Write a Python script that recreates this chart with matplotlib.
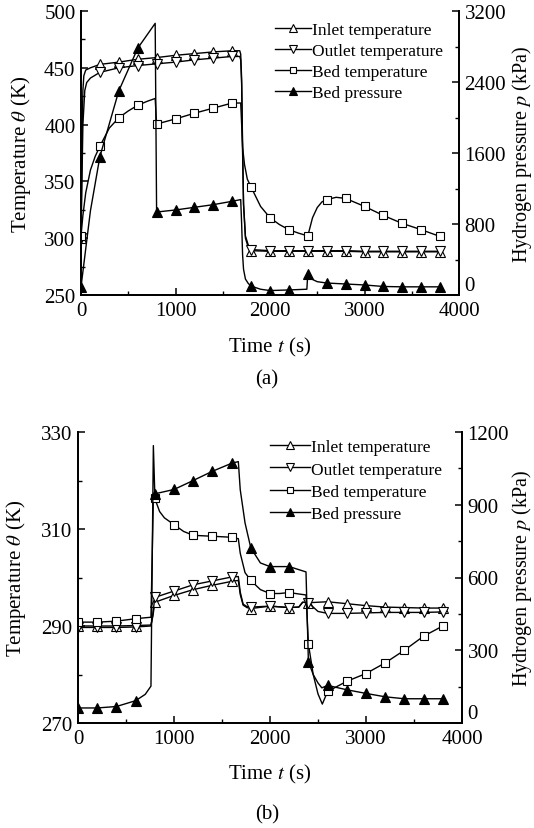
import matplotlib
matplotlib.use("Agg")
import matplotlib.pyplot as plt
from matplotlib.ticker import MultipleLocator
from matplotlib.lines import Line2D

plt.rcParams['font.family'] = ['Liberation Serif', 'DejaVu Serif']
plt.rcParams['mathtext.fontset'] = 'stix'

# ---------------- Panel (a) data ----------------
a_t_in = [0, 10, 20, 30, 50, 100, 200, 400, 600, 800, 1000, 1200, 1400, 1600, 1680, 1690,
          1700, 1710, 1720, 1740, 1770, 1800, 2000, 2200, 2400, 2600, 2800, 3000, 3200, 3400, 3600, 3800]
a_inlet = [300, 380, 430, 443, 448, 450, 453, 455, 457.5, 459, 461, 462.5, 464, 465, 465, 462,
           440, 380, 330, 300, 292, 289, 288.5, 288.5, 288.5, 288.5, 288.5, 288, 288, 288, 288, 288]

a_t_out = [0, 10, 20, 40, 60, 100, 200, 400, 600, 800, 1000, 1200, 1400, 1600, 1680, 1690,
           1700, 1710, 1720, 1740, 1770, 1800, 2000, 2200, 2400, 2600, 2800, 3000, 3200, 3400, 3600, 3800]
a_outlet = [300, 350, 400, 430, 437, 441, 446, 450, 452, 453.5, 455, 457, 458.5, 460, 460, 457,
            435, 375, 330, 302, 294, 290, 289, 289, 289, 289, 289, 288.5, 288.5, 288.5, 288.5, 288.5]

a_t_bed = [0, 20, 50, 100, 150, 200, 300, 400, 500, 600, 700, 785, 800, 1000, 1200, 1400, 1600,
           1690, 1700, 1710, 1730, 1760, 1800, 1900, 2000, 2100, 2200, 2300, 2400, 2450, 2500,
           2550, 2600, 2700, 2800, 3000, 3200, 3400, 3600, 3800]
a_bed = [302, 320, 340, 360, 372, 381, 397, 406, 412, 417, 420.5, 423, 400.5, 405, 410, 414.5, 419,
         419, 400, 380, 365, 352, 345, 328, 318, 312, 307.5, 304.5, 302, 318, 327,
         332, 334, 336, 335, 328, 320, 313, 307.5, 301.5]

a_t_p = [0, 100, 200, 400, 600, 785, 800, 1000, 1200, 1400, 1600, 1690, 1700, 1710, 1720, 1740,
         1770, 1800, 1900, 2000, 2200, 2390, 2400, 2450, 2500, 2600, 2800, 3000, 3200, 3400, 3600, 3800]
a_pres = [90, 950, 1560, 2300, 2780, 3061, 935, 958, 988, 1018, 1056, 1075, 800, 450, 290, 180,
          130, 100, 65, 50, 57, 65, 242, 175, 150, 135, 124, 113, 96, 92, 92, 92]

# ---------------- Panel (b) data ----------------
b_t_in = [0, 200, 400, 600, 760, 780, 800, 1000, 1200, 1400, 1600, 1670, 1690, 1720, 1760, 1800,
          2000, 2200, 2300, 2340, 2400, 2500, 2600, 2800, 3000, 3200, 3400, 3600, 3800]
b_inlet = [290.0, 290.0, 290.0, 290.1, 290.2, 292.0, 294.9, 296.3, 297.5, 298.4, 299.2, 299.4, 296.5,
           294.3, 293.8, 293.6, 294.1, 293.8, 293.9, 294.9, 294.8, 294.9, 295.0, 294.6, 294.2, 293.9,
           293.8, 293.7, 293.7]

b_t_out = b_t_in
b_outlet = [289.7, 289.7, 289.7, 289.8, 290.0, 292.5, 295.9, 297.2, 298.5, 299.3, 300.1, 300.2, 297.0,
            294.5, 294.0, 293.9, 294.1, 293.8, 293.9, 294.9, 294.8, 293.0, 292.6, 292.6, 292.7, 292.8,
            292.8, 292.8, 292.9]

b_t_bed = [0, 200, 400, 600, 700, 760, 785, 800, 850, 900, 1000, 1100, 1200, 1400, 1600, 1670, 1690,
           1740, 1800, 1900, 2000, 2100, 2200, 2300, 2375, 2400, 2450, 2500, 2545, 2600, 2800, 3000,
           3200, 3400, 3600, 3800]
b_bed = [290.8, 290.8, 291.0, 291.5, 291.7, 291.8, 316.5, 316.3, 313.6, 312.3, 310.9, 309.5, 308.7,
         308.5, 308.3, 308.0, 305.0, 301.0, 299.4, 297.5, 296.7, 296.7, 296.9, 296.6, 296.4, 286.3,
         280.0, 276.0, 273.9, 276.5, 278.6, 280.2, 282.4, 285.0, 287.9, 290.0]

b_t_p = [0, 200, 400, 600, 700, 760, 785, 800, 1000, 1200, 1400, 1600, 1670, 1690, 1740, 1800, 1900,
         2000, 2200, 2375, 2400, 2450, 2500, 2540, 2600, 2800, 3000, 3200, 3400, 3600, 3800]
b_pres = [62, 62, 68, 92, 118, 152, 1144, 945, 963, 1000, 1038, 1071, 1078, 962, 825, 722, 660,
          645, 645, 623, 253, 200, 165, 145, 155, 137, 122, 108, 100, 100, 100]

marker_times = list(range(0, 4000, 200))
labels = ['Inlet temperature', 'Outlet temperature', 'Bed temperature', 'Bed pressure']


def mark_idx(ts):
    last = {}
    for i, t in enumerate(ts):
        if t in marker_times:
            last[t] = i
    return sorted(last.values())


W, H = 534, 829
fig = plt.figure(figsize=(W / 100, H / 100), dpi=100)

FS_TICK = 15
FS_LAB = 15
FS_RLAB = 14.5
FS_LEG = 12.5
MS = 6.5
LW = 1.0


def style_axes(ax, axr, xmaj, xmin, ymaj, ymin, yoff, rmaj, rmin):
    for a in (ax, axr):
        a.spines['top'].set_visible(False)
        for s in ('left', 'right', 'bottom'):
            a.spines[s].set_linewidth(1.3)
    ax.xaxis.set_major_locator(MultipleLocator(xmaj))
    ax.xaxis.set_minor_locator(MultipleLocator(xmin))
    ax.yaxis.set_major_locator(MultipleLocator(ymaj, offset=yoff))
    ax.yaxis.set_minor_locator(MultipleLocator(ymin))
    axr.yaxis.set_major_locator(MultipleLocator(rmaj))
    axr.yaxis.set_minor_locator(MultipleLocator(rmin))
    for a in (ax, axr):
        a.tick_params(which='major', direction='in', length=5, width=1.1, labelsize=FS_TICK, pad=4)
        a.tick_params(which='minor', direction='in', length=3, width=1.0)


def draw_panel(rect, data, xlim, ylim, rlim, ticks, legend_anchor, lab_coords, xlab_y, hl, ls):
    ax = fig.add_axes(rect)
    axr = ax.twinx()
    (ti, vi), (to, vo), (tb, vb), (tp, vp) = data
    ax.plot(ti, vi, color='black', lw=LW, marker='^', ms=MS, mfc='white', mec='black', mew=0.8,
            markevery=mark_idx(ti), label=labels[0])
    ax.plot(to, vo, color='black', lw=LW, marker='v', ms=MS, mfc='white', mec='black', mew=0.8,
            markevery=mark_idx(to), label=labels[1])
    ax.plot(tb, vb, color='black', lw=LW, marker='s', ms=MS - 0.5, mfc='white', mec='black', mew=0.8,
            markevery=mark_idx(tb), label=labels[2])
    axr.plot(tp, vp, color='black', lw=LW, marker='^', ms=MS, mfc='black', mec='black', mew=0.8,
             markevery=mark_idx(tp), label=labels[3])
    ax.set_xlim(*xlim)
    ax.set_ylim(*ylim)
    axr.set_ylim(*rlim)
    style_axes(ax, axr, *ticks)
    ax.set_xlabel('Time $t$ (s)', fontsize=FS_LAB)
    ax.set_ylabel(r'Temperature $\theta$ (K)', fontsize=FS_LAB)
    axr.set_ylabel('Hydrogen pressure $p$ (kPa)', fontsize=FS_RLAB)
    ax.yaxis.set_label_coords(lab_coords[0], 0.5)
    axr.yaxis.set_label_coords(lab_coords[1], 0.5)
    ax.xaxis.set_label_coords(0.5, xlab_y)
    handles = [Line2D([], [], color='black', lw=LW, marker='^', ms=MS - 1, mfc='white', mec='black', mew=0.8),
               Line2D([], [], color='black', lw=LW, marker='v', ms=MS - 1, mfc='white', mec='black', mew=0.8),
               Line2D([], [], color='black', lw=LW, marker='s', ms=MS - 2, mfc='white', mec='black', mew=0.8),
               Line2D([], [], color='black', lw=LW, marker='^', ms=MS - 1, mfc='black', mec='black', mew=0.8)]
    axr.legend(handles, labels, loc='upper left', bbox_to_anchor=legend_anchor,
               bbox_transform=fig.transFigure, frameon=False, fontsize=FS_LEG,
               borderpad=0, borderaxespad=0, handlelength=hl, handletextpad=0.05,
               labelspacing=ls)
    return ax, axr


ax1, ax1r = draw_panel([81 / W, 1 - 296 / H, 378 / W, 284 / H],
                       [(a_t_in, a_inlet), (a_t_out, a_outlet), (a_t_bed, a_bed), (a_t_p, a_pres)],
                       (0, 4000), (250, 500), (0, 3200),
                       (1000, 500, 50, 25, 0, 800, 400),
                       (275 / W, 1 - 23 / H), (-0.127, 1.134), -0.14, 2.1, 0.28)

ax2, ax2r = draw_panel([78 / W, 1 - 724 / H, 384 / W, 291 / H],
                       [(b_t_in, b_inlet), (b_t_out, b_outlet), (b_t_bed, b_bed), (b_t_p, b_pres)],
                       (0, 4000), (270, 330), (0, 1200),
                       (1000, 500, 20, 10, 10, 300, 150),
                       (270 / W, 1 - 440 / H), (-0.13, 1.125), -0.134, 2.3, 0.36)

fig.canvas.draw()
for axr in (ax1r, ax2r):
    for lab in axr.get_yticklabels():
        if lab.get_text() == '0':
            lab.set_verticalalignment('bottom')

fig.text(267 / W, 1 - 380 / H, '(a)', ha='center', va='center', fontsize=FS_LAB)
fig.text(267 / W, 1 - 815 / H, '(b)', ha='center', va='center', fontsize=FS_LAB)

fig.savefig('out.png', dpi=100)
